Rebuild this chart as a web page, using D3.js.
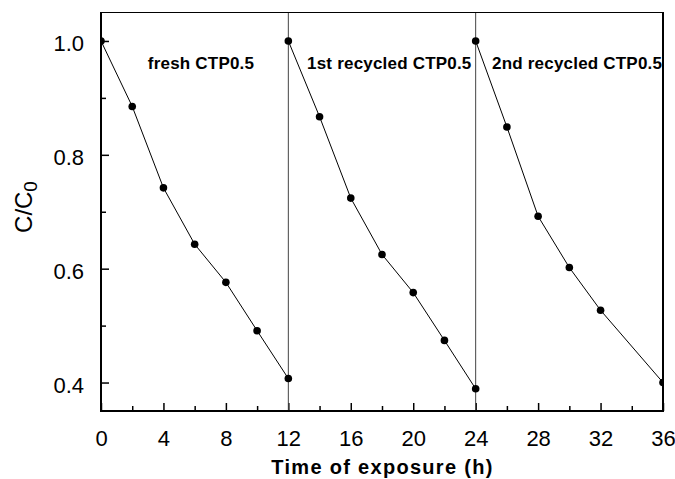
<!DOCTYPE html>
<html>
<head>
<meta charset="utf-8">
<script src="https://cdn.jsdelivr.net/npm/d3@7"></script>
<style>
  html, body { margin: 0; padding: 0; background: #fff; }
  svg { display: block; font-family: "Liberation Sans", Arial, sans-serif; }
</style>
</head>
<body>
<svg id="chart" width="675" height="479"></svg>
<script>
// Photocatalytic cycles: C/C0 versus exposure time
const cycleNames = ["fresh CTP0.5", "1st recycled CTP0.5", "2nd recycled CTP0.5"];
const freshTime = [0, 2, 4, 6, 8, 10, 12];
const freshValues = [1.0, 0.885, 0.742, 0.643, 0.576, 0.491, 0.407];
const recycled1Time = [12, 14, 16, 18, 20, 22, 24];
const recycled1Values = [1.0, 0.867, 0.724, 0.625, 0.558, 0.474, 0.389];
const recycled2Time = [24, 26, 28, 30, 32, 36];
const recycled2Values = [1.0, 0.849, 0.692, 0.602, 0.527, 0.400];
const cycleBoundaries = [12, 24];
const xMajorTicks = [0, 4, 8, 12, 16, 20, 24, 28, 32, 36];
const xMinorTicks = [2, 6, 10, 14, 18, 22, 26, 30, 34];
const yMajorTicks = [0.4, 0.6, 0.8, 1.0];
const yMinorTicks = [0.5, 0.7, 0.9];

const cycles = [
  { name: cycleNames[0], t: freshTime, v: freshValues },
  { name: cycleNames[1], t: recycled1Time, v: recycled1Values },
  { name: cycleNames[2], t: recycled2Time, v: recycled2Values }
];

const svg = d3.select("#chart");
const plotLeft = 101, plotRight = 663, plotTop = 12.5, plotBottom = 411;

const x = d3.scaleLinear().domain([0, 36]).range([plotLeft, plotRight]);
const y = d3.scaleLinear().domain([0.35, 1.05]).range([plotBottom, plotTop]);

svg.append("defs").append("clipPath").attr("id", "plotClip")
  .append("rect").attr("x", plotLeft).attr("y", plotTop)
  .attr("width", plotRight - plotLeft).attr("height", plotBottom - plotTop);

// inward ticks
const xMajor = svg.append("g").attr("transform", `translate(0,${plotBottom})`)
  .call(d3.axisBottom(x).tickValues(xMajorTicks).tickSizeInner(-8).tickSizeOuter(0)
    .tickPadding(35).tickFormat(d3.format("d")));
const xMinor = svg.append("g").attr("transform", `translate(0,${plotBottom})`)
  .call(d3.axisBottom(x).tickValues(xMinorTicks).tickSizeInner(-5).tickSizeOuter(0).tickFormat(""));
const yMajor = svg.append("g").attr("transform", `translate(${plotLeft},0)`)
  .call(d3.axisLeft(y).tickValues(yMajorTicks).tickSizeInner(-8).tickSizeOuter(0)
    .tickPadding(17).tickFormat(d3.format(".1f")));
const yMinor = svg.append("g").attr("transform", `translate(${plotLeft},0)`)
  .call(d3.axisLeft(y).tickValues(yMinorTicks).tickSizeInner(-5).tickSizeOuter(0).tickFormat(""));

[xMajor, xMinor, yMajor, yMinor].forEach(g => {
  g.select(".domain").remove();
  g.selectAll(".tick line").attr("stroke", "#000").attr("stroke-width", 1.5);
});
xMajor.selectAll(".tick text")
  .attr("font-size", 22).attr("fill", "#000").attr("dy", 0)
  .attr("y", 35);
yMajor.selectAll(".tick text")
  .attr("font-size", 22).attr("fill", "#000").attr("dy", "0.44em");

// cycle separators
svg.append("g").selectAll("line").data(cycleBoundaries).join("line")
  .attr("x1", d => x(d)).attr("x2", d => x(d))
  .attr("y1", plotTop).attr("y2", plotBottom)
  .attr("stroke", "#444").attr("stroke-width", 1);

// curves and markers
const line = d3.line().x(d => x(d[0])).y(d => y(d[1]));
const plot = svg.append("g").attr("clip-path", "url(#plotClip)");
cycles.forEach(c => {
  const pts = c.t.map((t, i) => [t, c.v[i]]);
  plot.append("path").datum(pts).attr("d", line)
    .attr("fill", "none").attr("stroke", "#000").attr("stroke-width", 1);
  plot.append("g").selectAll("circle").data(pts).join("circle")
    .attr("cx", d => x(d[0])).attr("cy", d => y(d[1])).attr("r", 3.8)
    .attr("fill", "#000");
});

// frame
const frame = svg.append("g").attr("stroke", "#000").attr("fill", "none");
frame.append("line").attr("x1", plotLeft).attr("x2", plotRight).attr("y1", plotTop).attr("y2", plotTop).attr("stroke-width", 1.2);
frame.append("line").attr("x1", plotLeft).attr("x2", plotLeft).attr("y1", plotTop - 0.6).attr("y2", plotBottom + 1).attr("stroke-width", 2);
frame.append("line").attr("x1", plotRight).attr("x2", plotRight).attr("y1", plotTop - 0.6).attr("y2", plotBottom + 1).attr("stroke-width", 2);
frame.append("line").attr("x1", plotLeft - 1).attr("x2", plotRight + 1).attr("y1", plotBottom).attr("y2", plotBottom).attr("stroke-width", 2);

// cycle labels
const labelX = [3, 13.2, 25.05];
svg.append("g").selectAll("text").data(cycles).join("text")
  .attr("x", (d, i) => x(labelX[i])).attr("y", 69)
  .attr("font-size", 17).attr("font-weight", "bold").attr("letter-spacing", 0.2)
  .attr("fill", "#000")
  .text(d => d.name);

// axis titles
svg.append("text")
  .attr("x", (plotLeft + plotRight) / 2 + 0.5).attr("y", 474.3)
  .attr("text-anchor", "middle").attr("font-size", 20).attr("font-weight", "bold")
  .attr("letter-spacing", 1.3).attr("fill", "#000")
  .text("Time of exposure (h)");

const yTitle = svg.append("text")
  .attr("transform", "translate(32,207) rotate(-90)")
  .attr("text-anchor", "middle").attr("font-size", 24).attr("fill", "#000");
yTitle.append("tspan").text("C/C");
yTitle.append("tspan").attr("font-size", 19).attr("dy", 5).text("0");
</script>
</body>
</html>
